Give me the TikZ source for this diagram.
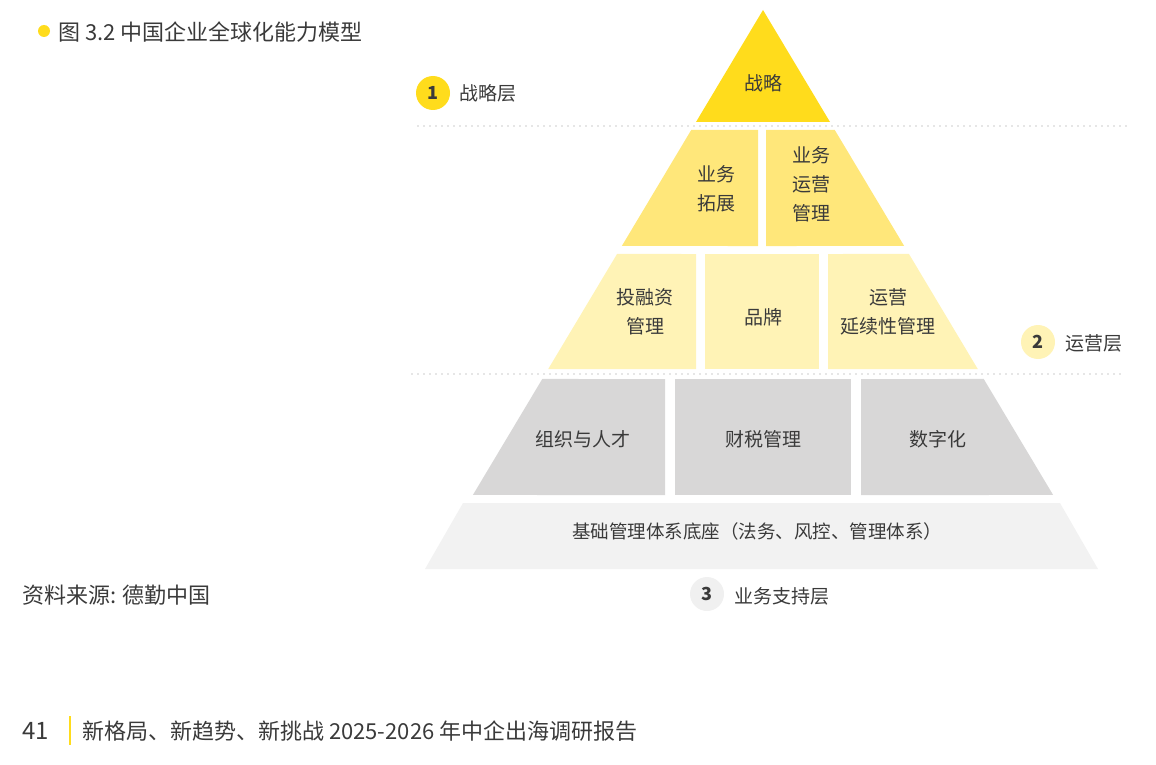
\documentclass[tikz,border=0pt]{standalone}
\usepackage{fontspec}
\setmainfont{Noto Sans CJK SC}
\usetikzlibrary{calc}
\definecolor{ink}{HTML}{3A3A3A}
\definecolor{yellowA}{HTML}{FFDC1C}
\definecolor{yellowB}{HTML}{FFE77A}
\definecolor{yellowC}{HTML}{FFF3B6}
\definecolor{greyA}{HTML}{D8D7D7}
\definecolor{greyB}{HTML}{F2F2F2}
\newcommand{\clrtop}{yellowA}
\newcommand{\clrops}{yellowB}
\newcommand{\clrrun}{yellowC}
\newcommand{\clrsup}{greyA}
\newcommand{\clrbase}{greyB}

\begin{document}
\begin{tikzpicture}[x=1pt,y=-1pt,
    lbl/.style={text=ink,align=center,font=\fontsize{19}{29}\selectfont},
    badge/.style={circle,minimum size=34pt,inner sep=0pt,text=ink,font=\bfseries\fontsize{18}{18}\selectfont},
    side/.style={text=ink,anchor=west,inner sep=0pt,font=\fontsize{19}{19}\selectfont},
    page/.style={text=ink,anchor=west,inner sep=0pt,font=\fontsize{22}{23}\selectfont},
    dotline/.style={gray!85,line width=1.3pt,line cap=round,dash pattern=on 0pt off 6pt}]

    \useasboundingbox (0,0) rectangle (1156,765);

    \coordinate (apex) at (763,10);
    \coordinate (bl) at (428,570);
    \coordinate (br) at (1098,570);
%edges of the pyramid at each cut
    \foreach\n/\y in {a/122,b/130,c/246,d/254,e/369,f/379,g/495} {
        \coordinate (l\n) at ($(apex)!{(\y-10)/560}!(bl)$);
        \coordinate (r\n) at ($(apex)!{(\y-10)/560}!(br)$);
    }

%%%%        Tiers
%top
    \fill[\clrtop] (apex) -- (la) -- (ra) -- cycle;
%ops
    \fill[\clrops] (lb) -- (lc) -- (758,246) -- (758,130) -- cycle;
    \fill[\clrops] (766,130) -- (766,246) -- (rc) -- (rb) -- cycle;
%run
    \fill[\clrrun] (ld) -- (le) -- (696,369) -- (696,254) -- cycle;
    \fill[\clrrun] (705,254) rectangle (819,369);
    \fill[\clrrun] (828,254) -- (828,369) -- (re) -- (rd) -- cycle;
%support
    \fill[\clrsup] (lf) -- (lg) -- (665,495) -- (665,379) -- cycle;
    \fill[\clrsup] (675,379) rectangle (851,495);
    \fill[\clrsup] (861,379) -- (861,495) -- (rg) -- (rf) -- cycle;
%base
    \fill[\clrbase] (463,503) -- (425,569) -- (1098,569) -- (1060,503) -- cycle;

%%%%        Dotted lines
    \coordinate (d1a) at (418,126);
    \coordinate (d1b) at (1127,126);
    \coordinate (d2a) at (412,374);
    \coordinate (d2b) at (1122,374);
    \draw[dotline] (d1a) -- (d1b);
    \draw[dotline] (d2a) -- (d2b);

%%%%        Labels
    \node[lbl] (s) at (763,83) {战略};
    \node[lbl] (b1) at (716,189) {业务\\拓展};
    \node[lbl] (b2) at (811,184) {业务\\运营\\管理};
    \node[lbl] (r1) at (645,312) {投融资\\管理};
    \node[lbl] (r2) at (763,317) {品牌};
    \node[lbl] (r3) at (888,312) {运营\\延续性管理};
    \node[lbl] (p1) at (583,439) {组织与人才};
    \node[lbl] (p2) at (763,439) {财税管理};
    \node[lbl] (p3) at (938,439) {数字化};
    \node[lbl,font=\fontsize{18.5}{20}\selectfont] (base) at (757,531) {基础管理体系底座（法务、风控、管理体系）};

%layer badges
    \node[badge,fill=\clrtop] (n1) at (433,93) {1};
    \node[badge,fill=\clrrun] (n2) at (1038,342) {2};
    \node[badge,fill=gray!12] (n3) at (707,594) {3};
    \node[side] (t1) at (459,93) {战略层};
    \node[side] (t2) at (1065,343) {运营层};
    \node[side] (t3) at (734,596) {业务支持层};

%page texts
    \fill[yellowA] (44,31) circle (6);
    \node[page] (title) at (58,32) {图 3.2 中国企业全球化能力模型};
    \node[page] (src) at (22,595) {资料来源: 德勤中国};
    \node[page,font=\fontsize{24}{25}\selectfont] (pg) at (22,731) {41};
    \coordinate (bar1) at (70,716);
    \coordinate (bar2) at (70,745);
    \draw[yellowA,line width=1.3pt] (bar1) -- (bar2);
    \node[page] (foot) at (82,731) {新格局、新趋势、新挑战 2025-2026 年中企出海调研报告};
\end{tikzpicture}
\end{document}
